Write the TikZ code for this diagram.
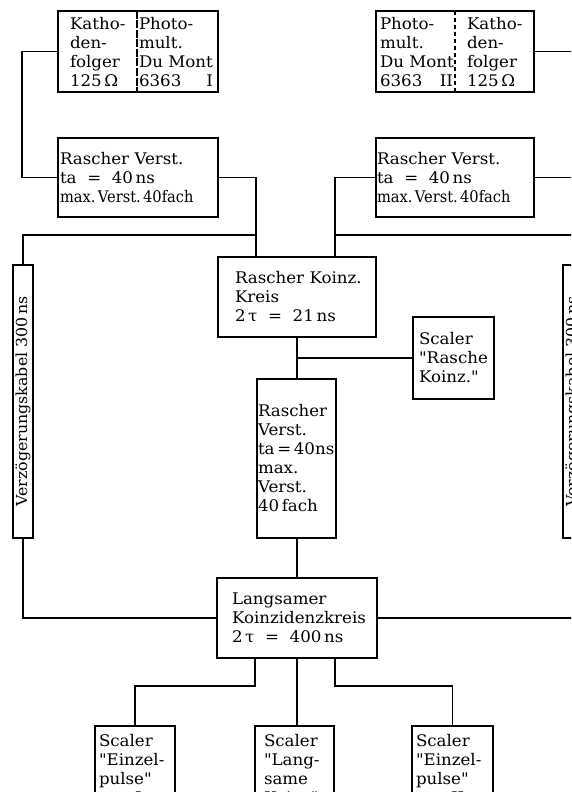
\documentclass[tikz,border=0pt]{standalone}
\usepackage{fontspec}
\setmainfont{DejaVu Serif}[Ligatures=TeXOff, FakeStretch=1.04]
\newcommand\fs{\fontsize{16}{19}\selectfont}
\newcommand\fsd{\fontsize{15.2}{17}\selectfont}
\newcommand\cmp[1]{\scalebox{0.88}[1]{#1}}
\tikzset{
  x=1pt, y=-1pt,
  blk/.style={draw, line width=1.7pt, rectangle, outer sep=0pt, inner ysep=0pt,
              align=left, anchor=north west, font=\fs},
  lbl/.style={inner sep=0pt, outer sep=0pt, align=left, anchor=west, font=\fs},
  cable/.style={draw, line width=1.7pt, outer sep=0pt, inner sep=0pt, rotate=90,
              minimum width=273pt, minimum height=20pt, font=\fsd},
  wire/.style={line width=1.7pt},
  divL/.style={line width=1.2pt, dash pattern=on 8pt off 1.5pt},
  divR/.style={line width=1.2pt, dash pattern=on 4pt off 3pt},
}
\begin{document}
\begin{tikzpicture}
\useasboundingbox (0,0) rectangle (571,792);
\clip (0,0) rectangle (571,792);
\fill[white] (0,0) rectangle (571,792);

% top boxes
\node[blk, minimum width=160pt, minimum height=81pt] (kL) at (58,11) {};
\node[lbl] (kLa) at (70,52) {Katho-\\den-\\folger\\125\,Ω};
\node[lbl] (kLb) at (139,52) {Photo-\\mult.\\Du~Mont\\\makebox[74pt][l]{6363\hfill I}};
\draw[divL] (137,11) -- (137,92);

\node[blk, minimum width=158pt, minimum height=81pt] (kR) at (376,11) {};
\node[lbl] (kRa) at (380,52) {Photo-\\mult.\\Du~Mont\\\makebox[73pt][l]{6363\hfill II}};
\node[lbl] (kRb) at (467,52) {Katho-\\den-\\folger\\125\,Ω};
\draw[divR] (455,11) -- (455,92);

% fast amplifiers
\node[blk, minimum width=160pt, minimum height=79pt, text width=156pt, inner xsep=2pt] (vL) at (58,138)
  {Rascher~Verst.\\ta~~=~~40\,ns\\\cmp{max.\,Verst.\,40fach}};
\node[blk, minimum width=158pt, minimum height=79pt, text width=156pt, inner xsep=1pt] (vR) at (376,138)
  {Rascher~Verst.\\ta~~=~~40\,ns\\\cmp{max.\,Verst.\,40fach}};

% fast coincidence
\node[blk, minimum width=158pt, minimum height=80pt, text width=124pt, inner xsep=17pt] (kz) at (218,257)
  {Rascher~Koinz.\\Kreis\\2\,τ~~=~~21\,ns};

% scaler fast coincidences
\node[blk, minimum width=81pt, minimum height=82pt, text width=69pt, inner xsep=6pt] (sr) at (413,317)
  {Scaler\\"Rasche\\Koinz."};

% middle amplifier
\node[blk, minimum width=79pt, minimum height=159pt, text width=77pt, inner xsep=1pt] (vM) at (257,379)
  {Rascher\\Verst.\\ta\,=\,40ns\\max.\\Verst.\\40\,fach};

% slow coincidence
\node[blk, minimum width=160pt, minimum height=80pt, text width=130pt, inner xsep=15pt] (lg) at (217,578)
  {Langsamer\\Koinzidenzkreis\\2\,τ~~=~~400\,ns};

% delay cables
\node[cable] (dL) at (23,401.5) {Verzögerungskabel~300\,ns};
\node[cable] (dR) at (573,401.5) {Verzögerungskabel~300\,ns};

% bottom scalers
\node[blk, minimum width=80pt, text width=72pt, inner xsep=4pt, inner ysep=8pt] (sE1) at (95,726)
  {Scaler\\"Einzel-\\pulse"\\\hspace*{36pt}I};
\node[blk, minimum width=79pt, text width=61pt, inner xsep=9pt, inner ysep=8pt] (sLk) at (255,726)
  {Scaler\\"Lang-\\same\\Koinz"};
\node[blk, minimum width=81pt, text width=73pt, inner xsep=4pt, inner ysep=8pt] (sE2) at (412,726)
  {Scaler\\"Einzel-\\pulse"\\\hspace*{35pt}II};

% bus coordinates
\coordinate (busL) at (256,235);
\coordinate (busR) at (335,235);

% wires
\draw[wire] (kL.west) -- ++(-36,0) |- (vL.west);
\draw[wire] (kR.east) -- ++(39,0) |- (vR.east);
\draw[wire] (vL.east) -| (busL) -- (busL |- kz.north);
\draw[wire] (vR.west) -| (busR) -- (busR |- kz.north);
\draw[wire] (dL.east) |- (busL);
\draw[wire] (busR) -| (dR.east);
\draw[wire] (kz.south) -- (kz.south |- vM.north);
\draw[wire] (kz.south |- sr.west) -- (sr.west);
\draw[wire] (lg.north) -- (lg.north |- vM.south);
\draw[wire] (dL.west) |- (lg.west);
\draw[wire] (lg.east) -| (dR.west);
\draw[wire] ([xshift=38pt]lg.south west) -- ++(0,28) -| (sE1.north);
\draw[wire] ([xshift=-42pt]lg.south east) -- ++(0,28) -| (sE2.north);
\draw[wire] (lg.south) -- (lg.south |- sLk.north);
\end{tikzpicture}
\end{document}
